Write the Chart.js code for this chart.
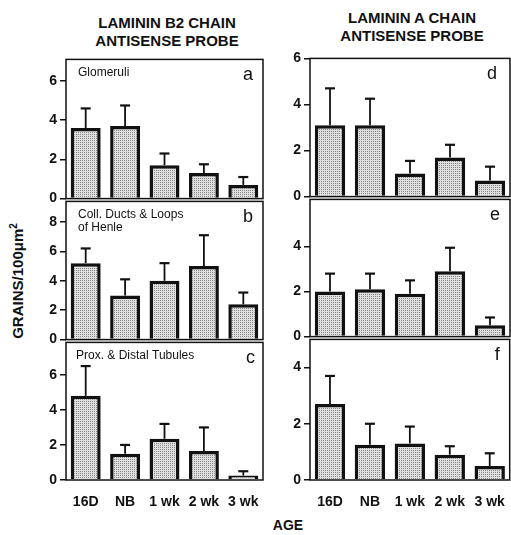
<!DOCTYPE html>
<html>
<head>
<meta charset="utf-8">
<script src="https://cdn.jsdelivr.net/npm/chart.js@4"></script>
<style>
  html, body { margin: 0; padding: 0; background: #fff; overflow: hidden; }
  #wrap { position: relative; width: 511px; height: 535px; font-family: "Liberation Sans", Arial, sans-serif; color: #111; }
  canvas { position: absolute; }
  .lbl { position: absolute; font-weight: bold; white-space: nowrap; transform: translate(-50%, -50%); }
</style>
</head>
<body>
<div id="wrap">
  <div class="lbl" style="left:167px; top:22px; font-size:15px;">LAMININ B2 CHAIN</div>
  <div class="lbl" style="left:167px; top:40px; font-size:15px;">ANTISENSE PROBE</div>
  <div class="lbl" style="left:412px; top:17px; font-size:15px;">LAMININ A CHAIN</div>
  <div class="lbl" style="left:412px; top:35px; font-size:15px;">ANTISENSE PROBE</div>
  <div class="lbl" style="left:17px; top:281px; font-size:15px; transform: translate(-50%, -50%) rotate(-90deg);">GRAINS/100μm<sup style="font-size:10px">2</sup></div>
  <div class="lbl" style="left:288px; top:525px; font-size:14px;">AGE</div>
</div>
<script>
// DATA
const ages = ['16D', 'NB', '1 wk', '2 wk', '3 wk'];

// laminin B2 chain
const glomB2 = [3.6, 3.7, 1.7, 1.3, 0.7];
const glomB2Err = [1.0, 1.05, 0.6, 0.45, 0.4];
const ductB2 = [5.2, 3.0, 4.0, 5.0, 2.4];
const ductB2Err = [1.0, 1.1, 1.2, 2.1, 0.8];
const tubB2 = [4.8, 1.5, 2.35, 1.65, 0.25];
const tubB2Err = [1.7, 0.5, 0.85, 1.35, 0.25];

// laminin A chain
const glomA = [3.1, 3.1, 1.0, 1.7, 0.7];
const glomAErr = [1.6, 1.15, 0.55, 0.55, 0.6];
const ductA = [2.0, 2.1, 1.9, 2.9, 0.5];
const ductAErr = [0.8, 0.7, 0.6, 1.05, 0.35];
const tubA = [2.7, 1.25, 1.3, 0.9, 0.5];
const tubAErr = [1.0, 0.75, 0.6, 0.3, 0.45];

// y tick labels per panel
const ticksA = [0, 2, 4, 6];
const ticksB = [0, 2, 4, 6, 8];
const ticksC = [0, 2, 4, 6];
const ticksD = [0, 2, 4, 6];
const ticksE = [0, 2, 4];
const ticksF = [0, 2, 4];

// stippled fill
function stipple() {
  const c = document.createElement('canvas');
  c.width = 2; c.height = 2;
  const g = c.getContext('2d');
  g.fillStyle = '#dedede';
  g.fillRect(0, 0, 2, 2);
  g.fillStyle = '#8a8a8a';
  g.fillRect(0, 0, 1, 1);
  return g.createPattern(c, 'repeat');
}
const fill = stipple();

const panelPlugin = {
  id: 'panelStuff',
  afterDatasetsDraw(chart, args, opts) {
    const ctx = chart.ctx;
    const area = chart.chartArea;
    const y = chart.scales.y;
    const meta = chart.getDatasetMeta(0);
    ctx.save();
    // error bars (upward only)
    ctx.strokeStyle = '#111';
    meta.data.forEach((bar, i) => {
      const top = y.getPixelForValue(opts.values[i] + opts.errs[i]);
      ctx.lineWidth = 1.8;
      ctx.beginPath();
      ctx.moveTo(bar.x, bar.y);
      ctx.lineTo(bar.x, top);
      ctx.stroke();
      ctx.lineWidth = 2.2;
      ctx.beginPath();
      ctx.moveTo(bar.x - 5, top);
      ctx.lineTo(bar.x + 5, top);
      ctx.stroke();
    });
    // frame
    ctx.lineWidth = 1.5;
    ctx.strokeRect(area.left, area.top, area.right - area.left, area.bottom - area.top);
    // panel text
    ctx.fillStyle = '#111';
    ctx.textBaseline = 'middle';
    ctx.textAlign = 'left';
    ctx.font = '12px "Liberation Sans", Arial, sans-serif';
    opts.name.forEach((line, k) => {
      ctx.fillText(line, area.left + opts.nameX, area.top + 13 + k * 13);
    });
    ctx.textAlign = 'right';
    ctx.font = '18px "Liberation Sans", Arial, sans-serif';
    ctx.fillText(opts.letter, area.right - opts.letterX, area.top + 16);
    ctx.restore();
  }
};

function panel(p) {
  const canvas = document.createElement('canvas');
  canvas.width = p.w;
  canvas.height = p.h;
  canvas.style.left = p.left + 'px';
  canvas.style.top = p.top + 'px';
  canvas.style.width = p.w + 'px';
  canvas.style.height = p.h + 'px';
  document.getElementById('wrap').appendChild(canvas);

  return new Chart(canvas, {
    type: 'bar',
    data: {
      labels: ages,
      datasets: [{
        data: p.values,
        backgroundColor: fill,
        borderColor: '#111',
        borderWidth: 3.5,
        barPercentage: 0.76,
        categoryPercentage: 1
      }]
    },
    options: {
      responsive: false,
      animation: false,
      devicePixelRatio: 1,
      layout: { padding: { top: 10, bottom: p.showX ? 0 : 10, left: 0, right: p.padR } },
      plugins: {
        legend: { display: false },
        tooltip: { enabled: false },
        panelStuff: { values: p.values, errs: p.errs, name: p.name, letter: p.letter, nameX: p.nameX, letterX: p.letterX }
      },
      scales: {
        x: {
          display: p.showX,
          grid: { display: false },
          border: { display: false },
          ticks: { color: '#111', padding: 6, font: { family: '"Liberation Sans", Arial, sans-serif', size: 14, weight: 'bold' } },
          afterFit: s => { s.height = p.showX ? 28 : 0; }
        },
        y: {
          min: 0,
          max: p.max,
          afterBuildTicks: s => { s.ticks = p.ticks.map(v => ({ value: v })); },
          afterFit: s => { s.width = p.yW; },
          grid: { drawOnChartArea: false, drawTicks: true, tickLength: 6, color: '#111', lineWidth: 1.5 },
          border: { display: false },
          ticks: { color: '#111', padding: 3, font: { family: '"Liberation Sans", Arial, sans-serif', size: 14, weight: 'bold' } }
        }
      }
    },
    plugins: [panelPlugin]
  });
}

panel({ left: 20, top: 48, w: 246, h: 162, yW: 46, padR: 3, values: glomB2, errs: glomB2Err, ticks: ticksA, max: 7.1,
  name: ['Glomeruli'], letter: 'a', nameX: 12, letterX: 10, showX: false });
panel({ left: 20, top: 190, w: 246, h: 161, yW: 46, padR: 3, values: ductB2, errs: ductB2Err, ticks: ticksB, max: 9.4,
  name: ['Coll. Ducts & Loops', 'of Henle'], letter: 'b', nameX: 12, letterX: 10, showX: false });
panel({ left: 20, top: 331, w: 246, h: 177, yW: 46, padR: 3, values: tubB2, errs: tubB2Err, ticks: ticksC, max: 7.85,
  name: ['Prox. & Distal Tubules'], letter: 'c', nameX: 10, letterX: 8, showX: true });

panel({ left: 275, top: 47, w: 236, h: 161, yW: 35, padR: 1, values: glomA, errs: glomAErr, ticks: ticksD, max: 6,
  name: [], letter: 'd', nameX: 12, letterX: 13, showX: false });
panel({ left: 275, top: 188, w: 236, h: 160, yW: 35, padR: 1, values: ductA, errs: ductAErr, ticks: ticksE, max: 6.1,
  name: [], letter: 'e', nameX: 12, letterX: 10, showX: false });
panel({ left: 275, top: 328, w: 236, h: 180, yW: 35, padR: 1, values: tubA, errs: tubAErr, ticks: ticksF, max: 5,
  name: [], letter: 'f', nameX: 12, letterX: 10, showX: true });
</script>
</body>
</html>
